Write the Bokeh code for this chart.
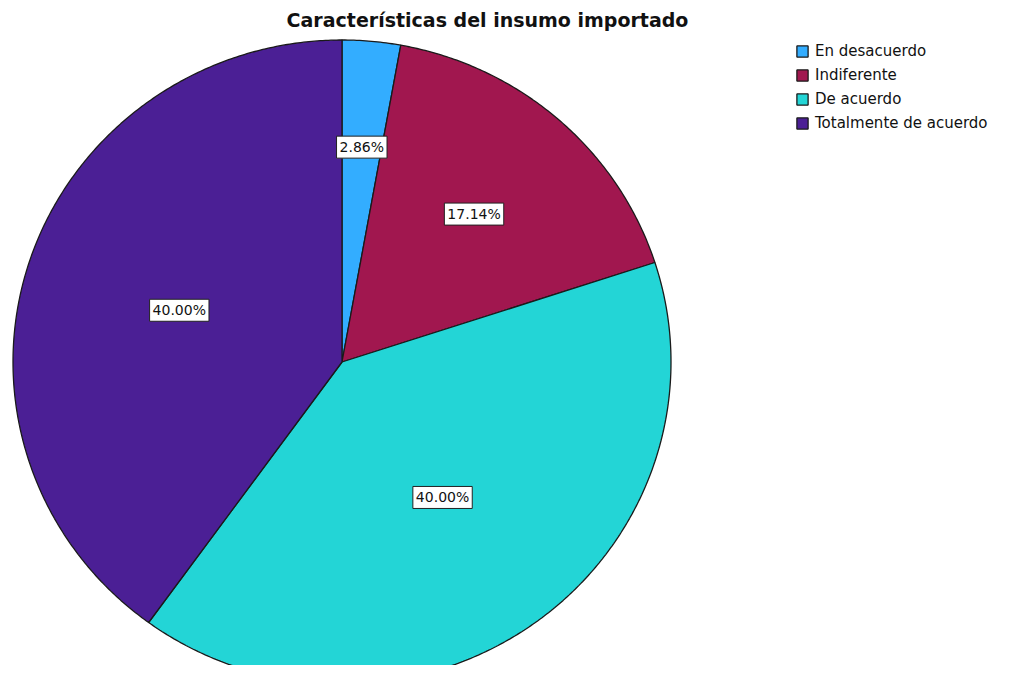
import numpy as np
from bokeh.plotting import figure
from bokeh.models import Label, Legend, LegendItem, Range1d
from bokeh.embed import file_html
from bokeh.resources import INLINE

# ---- data ----
categories = ["En desacuerdo", "Indiferente", "De acuerdo", "Totalmente de acuerdo"]
percents = [2.86, 17.14, 40.00, 40.00]
label_texts = ["2.86%", "17.14%", "40.00%", "40.00%"]
colors = ["#33ADFF", "#A1174F", "#23D5D6", "#4B1F95"]
title_text = "Características del insumo importado"

# ---- layout params ----
W, H = 993, 665
cx_px, cy_px = 341.5, 361.5      # pie centre in frame pixels (from top-left)
rx_px, ry_px = 329.0, 322.0      # pixels per data unit
label_r = [0.67, 0.61, 0.52, 0.52]

x_start = -cx_px / rx_px
x_end = (W - cx_px) / rx_px
y_end = cy_px / ry_px
y_start = -(H - cy_px) / ry_px

p = figure(width=W, height=H, output_backend="svg", toolbar_location=None,
           x_range=Range1d(x_start, x_end), y_range=Range1d(y_start, y_end),
           min_border=0, outline_line_color=None)
p.axis.visible = False
p.grid.visible = False
p.background_fill_color = "white"

total = sum(percents)
cum = np.cumsum([0] + percents) / total
items = []
for i, (cat, pct, col) in enumerate(zip(categories, percents, colors)):
    a0 = np.pi / 2 - 2 * np.pi * cum[i]
    a1 = np.pi / 2 - 2 * np.pi * cum[i + 1]
    n = max(8, int(abs(a1 - a0) * 120))
    t = np.linspace(a0, a1, n)
    xs = np.concatenate([[0], np.cos(t), [0]])
    ys = np.concatenate([[0], np.sin(t), [0]])
    r = p.patch(xs, ys, fill_color=col, line_color="#1a1a1a", line_width=1.3)
    items.append(LegendItem(label=cat, renderers=[r]))
    am = (a0 + a1) / 2
    lab = Label(x=label_r[i] * np.cos(am), y=label_r[i] * np.sin(am),
                text=label_texts[i], text_align="center", text_baseline="middle",
                text_font="DejaVu Sans", text_font_size="14px", text_color="#111111",
                background_fill_color="white", border_line_color="#222222",
                border_line_width=1, padding=(3, 3))
    p.add_layout(lab)

title = Label(x=487, y=H - 19, x_units="screen", y_units="screen", text=title_text,
              text_align="center", text_baseline="middle", text_font="DejaVu Sans",
              text_font_style="bold", text_font_size="19px", text_color="#111111")
p.add_layout(title)

legend = Legend(items=items, location=(795, H - 132), orientation="vertical",
                label_text_font="DejaVu Sans", label_text_font_size="15px",
                label_text_color="#111111", glyph_width=14, glyph_height=14,
                label_standoff=6, spacing=6, padding=0, margin=0,
                border_line_color=None, background_fill_alpha=0)
p.add_layout(legend)

open("out.html", "w").write(file_html(p, INLINE))
